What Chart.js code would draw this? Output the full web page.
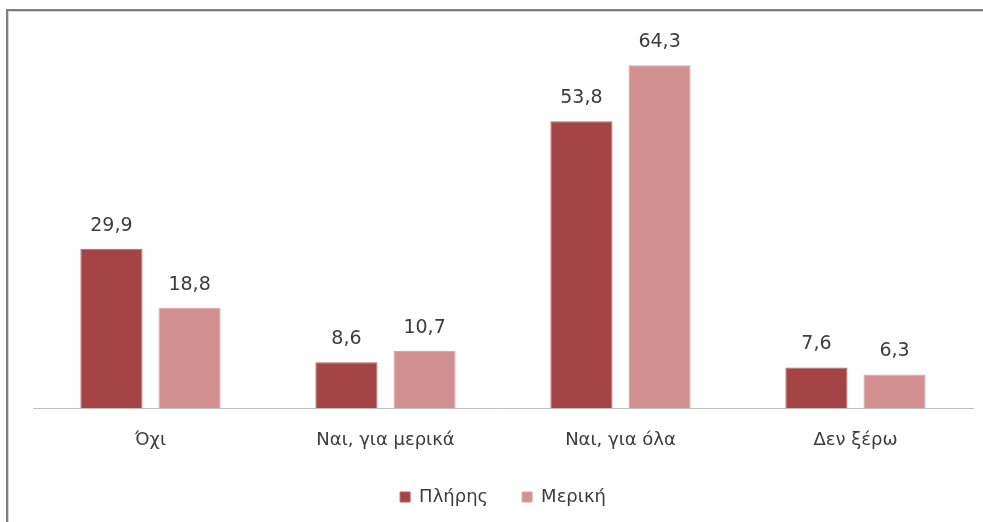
<!DOCTYPE html>
<html lang="el">
<head>
  <meta charset="UTF-8">
  <title>Πλήρης / Μερική</title>
  <script src="https://cdn.jsdelivr.net/npm/chart.js"></script>
  <style>
    body { margin: 0; background: #fff; }
    .wrap { position: relative; width: 983px; height: 522px; }
    .frame {
      position: absolute; left: 6px; top: 9px; right: 0; bottom: 0;
      border-top: 2px solid #7f7f7f; border-left: 2px solid #7f7f7f;
      box-shadow: inset 1px 1px 0 #d4d4d4;
      pointer-events: none;
    }
    canvas { position: absolute; left: 0; top: 0; }
  </style>
</head>
<body>
  <div class="wrap">
    <canvas id="chart" width="983" height="522"></canvas>
    <div class="frame"></div>
  </div>

  <script>
    // Data
    const categories = ['Όχι', 'Ναι, για μερικά', 'Ναι, για όλα', 'Δεν ξέρω'];
    const fullValues = [29.9, 8.6, 53.8, 7.6];      // Πλήρης
    const partialValues = [18.8, 10.7, 64.3, 6.3];  // Μερική
    const seriesNames = ['Πλήρης', 'Μερική'];

    const FONT = '"DejaVu Sans", "Noto Sans", sans-serif';
    const TEXT = '#3c3c3c';

    // value labels above each bar, with a Greek decimal comma
    const valueLabels = {
      id: 'valueLabels',
      afterDatasetsDraw(chart) {
        const ctx = chart.ctx;
        ctx.save();
        ctx.font = '19px ' + FONT;
        ctx.fillStyle = TEXT;
        ctx.textAlign = 'center';
        ctx.textBaseline = 'middle';
        chart.data.datasets.forEach((ds, i) => {
          chart.getDatasetMeta(i).data.forEach((bar, j) => {
            const txt = ds.data[j].toFixed(1).replace('.', ',');
            ctx.fillText(txt, bar.x, bar.y - 23);
          });
        });
        ctx.restore();
      }
    };

    new Chart(document.getElementById('chart'), {
      type: 'bar',
      data: {
        labels: categories,
        datasets: [
          {
            label: seriesNames[0],
            data: fullValues,
            backgroundColor: '#a54444',
            borderColor: '#b86060',
            borderWidth: 1,
            categoryPercentage: 0.665,
            barPercentage: 0.795
          },
          {
            label: seriesNames[1],
            data: partialValues,
            backgroundColor: '#d39090',
            borderColor: '#dca4a4',
            borderWidth: 1,
            categoryPercentage: 0.665,
            barPercentage: 0.795
          }
        ]
      },
      options: {
        responsive: false,
        animation: false,
        layout: { padding: { left: 33, right: 10, top: 35, bottom: 6 } },
        plugins: {
          tooltip: { enabled: false },
          legend: {
            position: 'bottom',
            labels: {
              font: { family: FONT, size: 18 },
              color: TEXT,
              boxWidth: 10,
              boxHeight: 10,
              padding: 34
            }
          }
        },
        scales: {
          x: {
            grid: { display: false },
            border: { display: true, color: '#bfbfbf', width: 1 },
            ticks: {
              font: { family: FONT, size: 18 },
              color: TEXT,
              padding: 14,
              maxRotation: 0
            },
            afterFit(scale) { scale.height = 46; }
          },
          y: {
            display: false,
            min: 0,
            max: 70
          }
        }
      },
      plugins: [valueLabels]
    });
  </script>
</body>
</html>
